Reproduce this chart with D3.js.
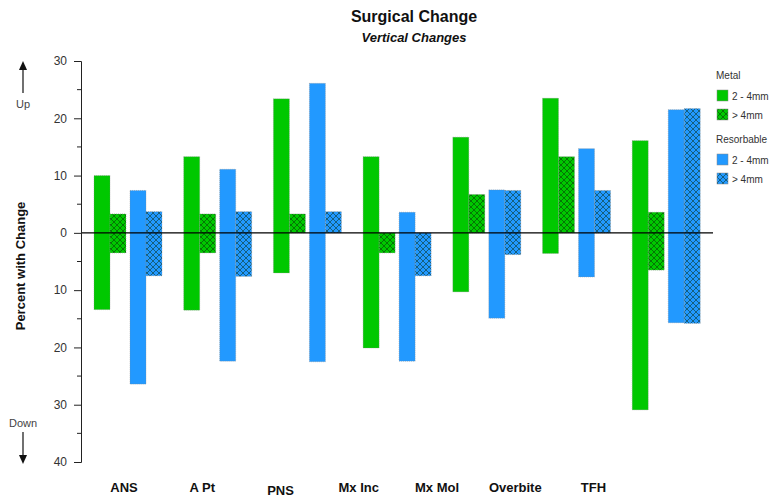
<!DOCTYPE html>
<html>
<head>
<meta charset="utf-8">
<script src="https://cdn.jsdelivr.net/npm/d3@7"></script>
<style>
body { margin: 0; background: #fff; }
text { font-family: "Liberation Sans", Arial, sans-serif; }
</style>
</head>
<body>
<svg id="chart" width="774" height="502"></svg>
<script>
// categories along the bottom
var categories = ["ANS", "A Pt", "PNS", "Mx Inc", "Mx Mol", "Overbite", "TFH"];

// each series is a floating bar: top (up) and bottom (down) in percent
var metalSmallTop = [10, 13.3, 23.4, 13.3, 16.7, 23.5, 16.1];
var metalSmallBottom = [-13.4, -13.5, -7.0, -20.1, -10.3, -3.6, -30.9];
var metalLargeTop = [3.3, 3.3, 3.3, 0, 6.7, 13.3, 3.6];
var metalLargeBottom = [-3.5, -3.5, 0, -3.5, 0, 0, -6.5];
var resorbSmallTop = [7.4, 11.1, 26.1, 3.6, 7.5, 14.7, 21.5];
var resorbSmallBottom = [-26.4, -22.4, -22.5, -22.4, -14.9, -7.7, -15.7];
var resorbLargeTop = [3.7, 3.7, 3.7, 0, 7.4, 7.4, 21.7];
var resorbLargeBottom = [-7.5, -7.6, 0, -7.5, -3.8, 0, -15.8];

var majorTicks = [-40, -30, -20, -10, 0, 10, 20, 30];
var minorTicks = [-35, -25, -15, -5, 5, 15, 25];

var green = "#00c800", blue = "#2299ff";

var svg = d3.select("#chart");

var y = d3.scaleLinear().domain([-40, 30]).range([462, 61]);
var x = d3.scaleBand().domain(categories).range([94, 700.4]).paddingInner(0.24).paddingOuter(0).align(0);
var labelX = d3.scalePoint().domain(categories).range([124, 593.5]);

var barW = 16, pairGap = 4;

// hatch patterns
var defs = svg.append("defs");
function hatch(id, color){
	var p = defs.append("pattern").attr("id", id)
		.attr("patternUnits", "userSpaceOnUse")
		.attr("width", 6).attr("height", 6);
	p.append("rect").attr("width", 6).attr("height", 6).attr("fill", color);
	p.append("path").attr("d", "M0,0L6,6M6,0L0,6M-1,5L1,7M5,-1L7,1M-1,1L1,-1M5,7L7,5")
		.attr("stroke", "#0a2a0a").attr("stroke-width", 0.7).attr("stroke-opacity", 0.75);
}
hatch("hatchGreen", green);
hatch("hatchBlue", blue);

var series = [
	{top: metalSmallTop, bottom: metalSmallBottom, fill: green, pair: 0, slot: 0},
	{top: metalLargeTop, bottom: metalLargeBottom, fill: "url(#hatchGreen)", pair: 0, slot: 1},
	{top: resorbSmallTop, bottom: resorbSmallBottom, fill: blue, pair: 1, slot: 0},
	{top: resorbLargeTop, bottom: resorbLargeBottom, fill: "url(#hatchBlue)", pair: 1, slot: 1}
];

series.forEach(function(s){
	var rows = categories.map(function(c, i){ return {c: c, top: s.top[i], bottom: s.bottom[i]}; });
	svg.append("g").selectAll("rect").data(rows).enter().append("rect")
		.attr("x", function(d){ return x(d.c) + s.pair*(2*barW + pairGap) + s.slot*barW; })
		.attr("y", function(d){ return y(d.top); })
		.attr("width", barW)
		.attr("height", function(d){ return y(d.bottom) - y(d.top); })
		.attr("fill", s.fill)
		.attr("stroke", "#888").attr("stroke-width", 0.5).attr("stroke-dasharray", "1,1");
});

// zero line
svg.append("line").attr("x1", 81).attr("x2", 713)
	.attr("y1", y(0)).attr("y2", y(0))
	.attr("stroke", "#000").attr("stroke-width", 1.3);

// y axis
var axis = svg.append("g").attr("transform", "translate(81,0)")
	.call(d3.axisLeft(y).tickValues(majorTicks).tickSize(7).tickFormat(function(d){ return Math.abs(d); }));
axis.select(".domain").attr("stroke", "#222");
axis.selectAll(".tick line").attr("stroke", "#222");
axis.selectAll("text").attr("font-size", 12).attr("fill", "#333")
	.attr("font-family", "Liberation Sans, Arial, sans-serif").attr("x", -14);
svg.append("g").selectAll("line").data(minorTicks).enter().append("line")
	.attr("x1", 77).attr("x2", 81)
	.attr("y1", function(d){ return y(d); }).attr("y2", function(d){ return y(d); })
	.attr("stroke", "#222");

// category labels
svg.append("g").selectAll("text").data(categories).enter().append("text")
	.attr("x", function(d){ return labelX(d); })
	.attr("y", function(d, i){ return i == 2 ? 495 : 492; })
	.attr("text-anchor", "middle")
	.attr("font-size", 13).attr("font-weight", "bold").attr("fill", "#111")
	.text(function(d){ return d; });

// titles
svg.append("text").attr("x", 414).attr("y", 22).attr("text-anchor", "middle")
	.attr("font-size", 16).attr("font-weight", "bold").attr("fill", "#111").text("Surgical Change");
svg.append("text").attr("x", 414).attr("y", 42).attr("text-anchor", "middle")
	.attr("font-size", 13).attr("font-weight", "bold").attr("font-style", "italic").attr("fill", "#111").text("Vertical Changes");

// y label
svg.append("text").attr("transform", "translate(25,266) rotate(-90)")
	.attr("text-anchor", "middle").attr("font-size", 13).attr("font-weight", "bold").attr("fill", "#111")
	.text("Percent with Change");

// up / down arrows
function arrow(y1, y2){
	var dir = y2 < y1 ? -1 : 1;
	svg.append("line").attr("x1", 23).attr("x2", 23).attr("y1", y1).attr("y2", y2 - dir*8)
		.attr("stroke", "#111").attr("stroke-width", 1.2);
	svg.append("path").attr("d", "M19," + (y2 - dir*9) + "L27," + (y2 - dir*9) + "L23," + y2 + "Z").attr("fill", "#111");
}
arrow(93, 61);
arrow(432, 464);
svg.append("text").attr("x", 23).attr("y", 108).attr("text-anchor", "middle")
	.attr("font-size", 11).attr("fill", "#444").text("Up");
svg.append("text").attr("x", 23).attr("y", 427).attr("text-anchor", "middle")
	.attr("font-size", 11).attr("fill", "#444").text("Down");

// legend
var legendGroups = ["Metal", "Resorbable"];
var legendItems = ["2 - 4mm", "> 4mm"];
var legendFills = [[green, "url(#hatchGreen)"], [blue, "url(#hatchBlue)"]];
legendGroups.forEach(function(g, gi){
	var top = 79 + gi*64;
	svg.append("text").attr("x", 716).attr("y", top).attr("font-size", 10).attr("fill", "#333").text(g);
	legendItems.forEach(function(t, ti){
		var by = top + 11 + ti*19;
		svg.append("rect").attr("x", 717).attr("y", by).attr("width", 11).attr("height", 11)
			.attr("fill", legendFills[gi][ti]).attr("stroke", "#888").attr("stroke-width", 0.5);
		svg.append("text").attr("x", 732).attr("y", by + 9.5).attr("font-size", 10).attr("fill", "#333").text(t);
	});
});
</script>
</body>
</html>
